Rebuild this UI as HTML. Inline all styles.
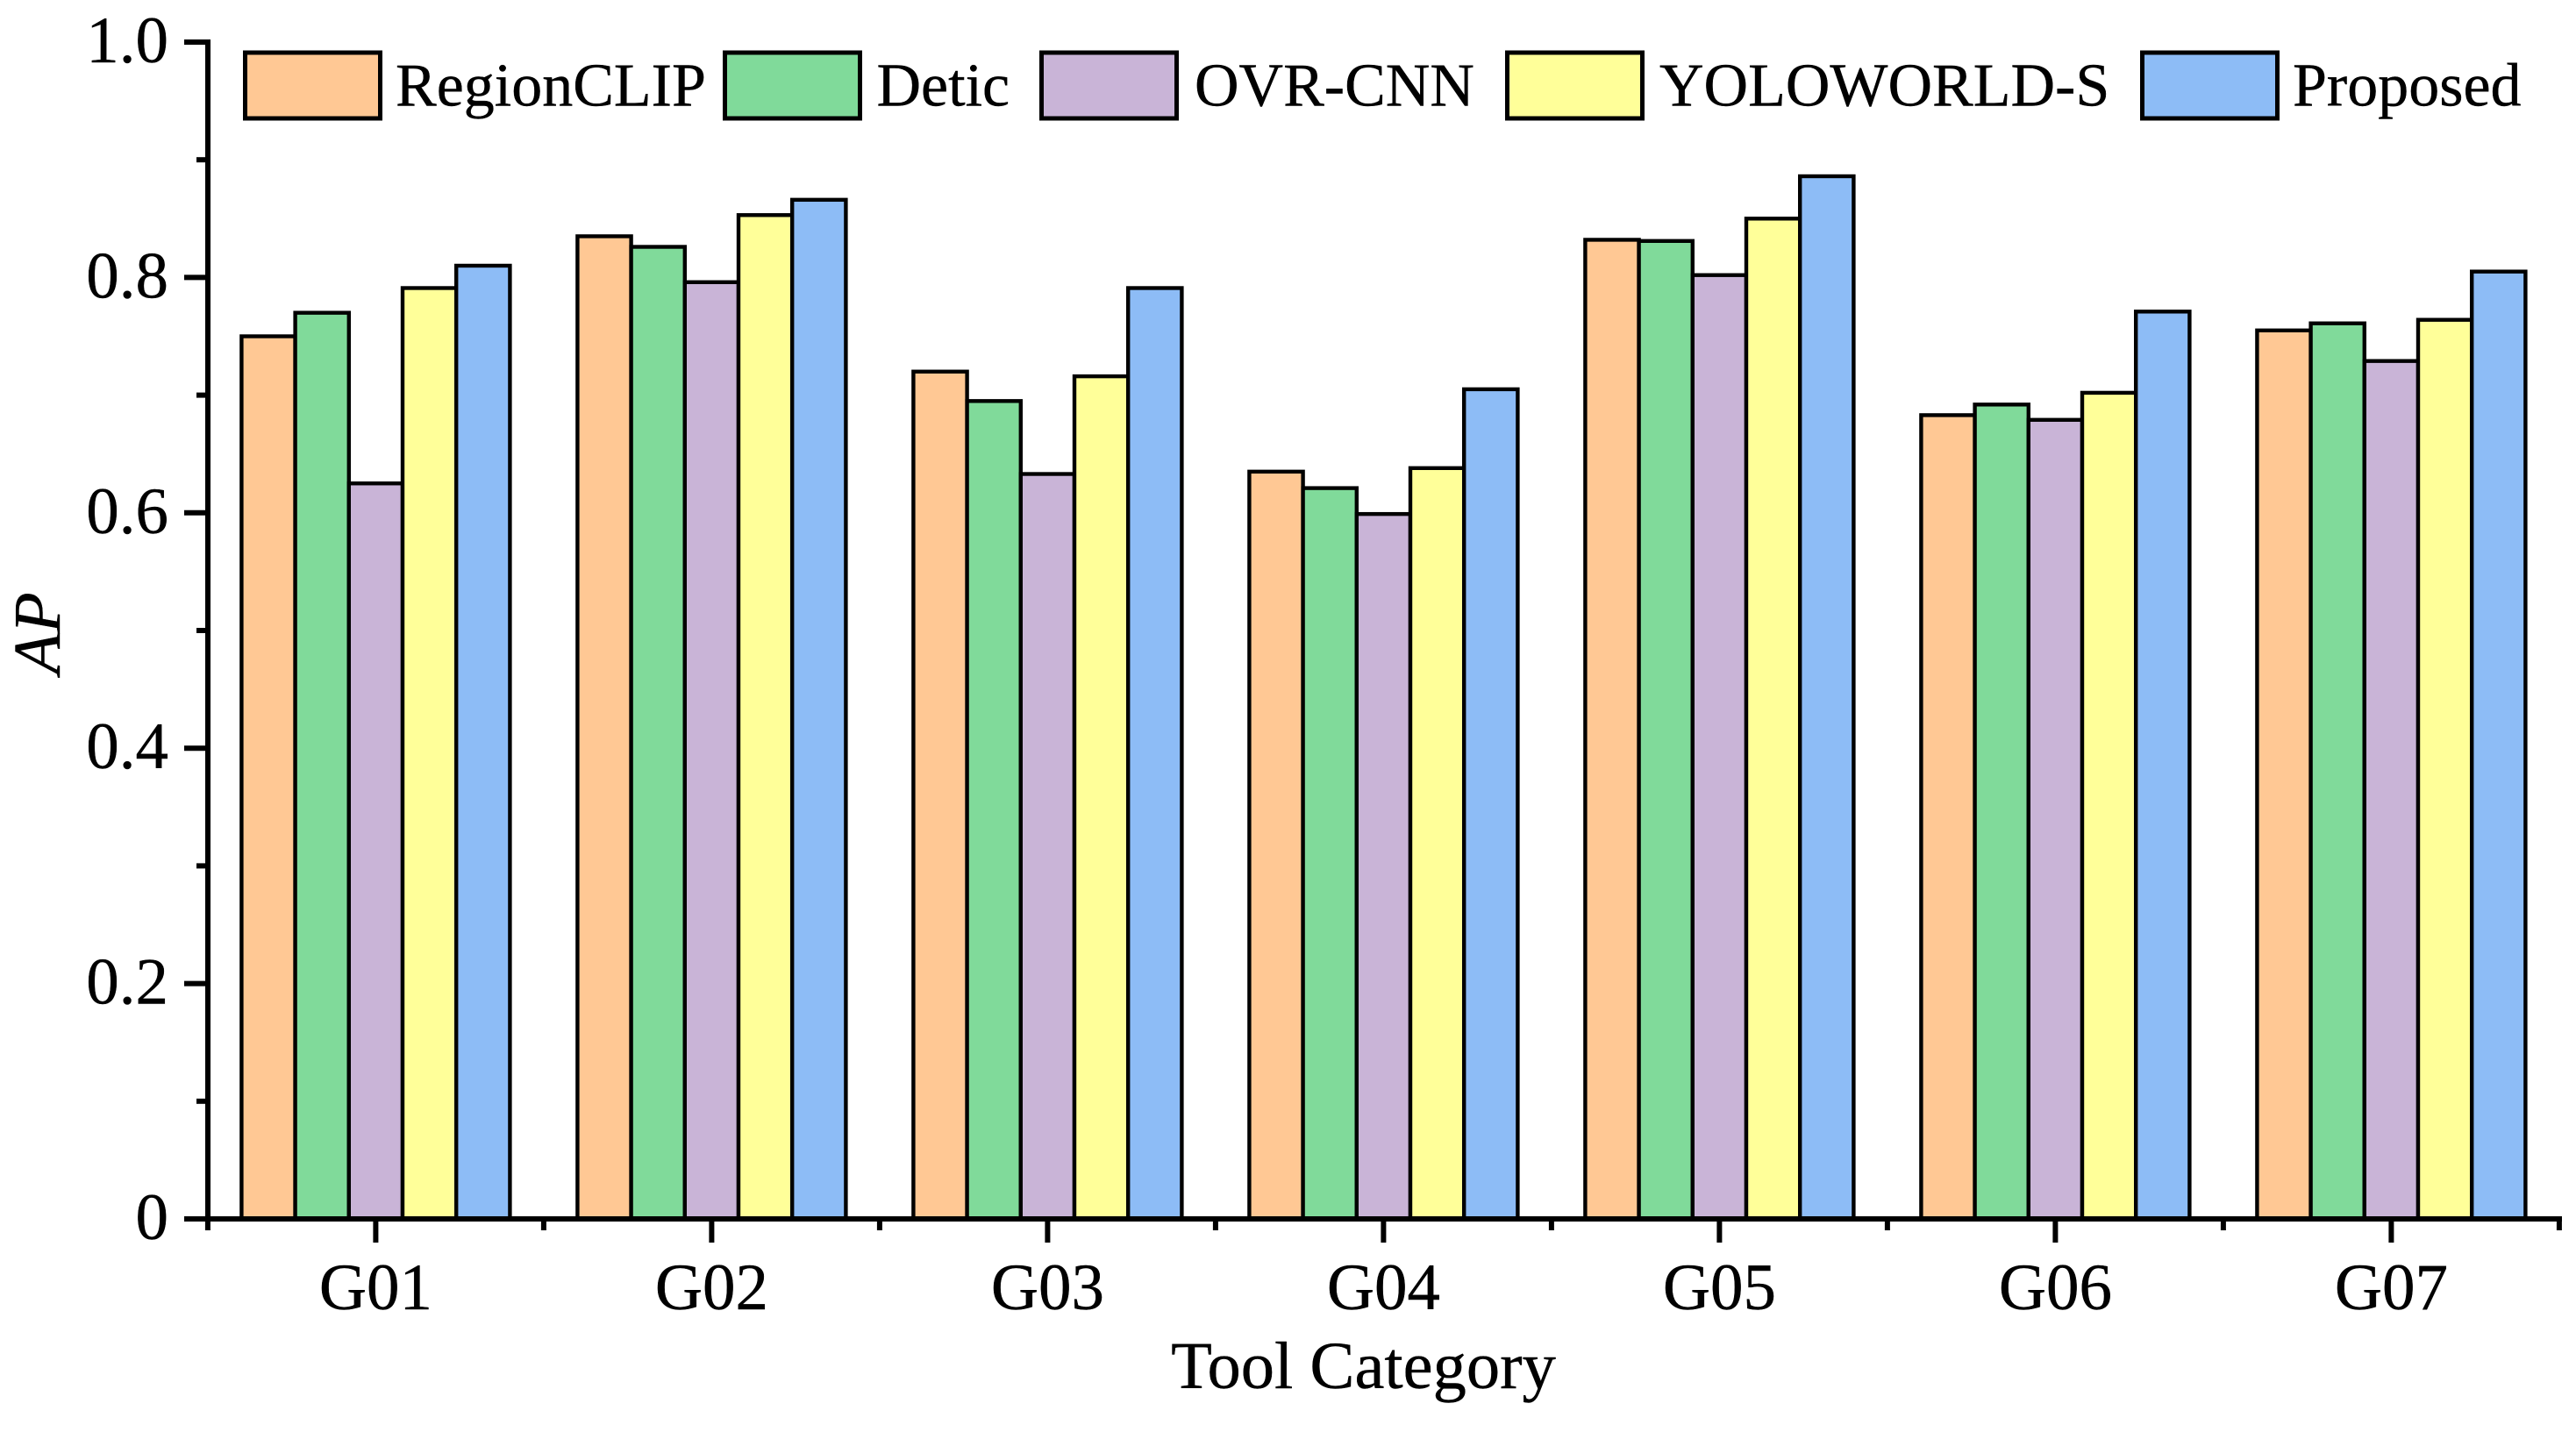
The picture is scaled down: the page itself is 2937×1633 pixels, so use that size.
<!DOCTYPE html>
<html lang="en">
<head>
<meta charset="utf-8">
<title>AP by Tool Category</title>
<style>
  html, body { margin: 0; padding: 0; background: #fff; }
  svg { display: block; }
  text { font-family: "Liberation Serif", serif; fill: #000; stroke: #000; stroke-width: 0.4px; }
  .tick-label { font-size: 75px; }
  .axis-title { font-size: 76.5px; }
  .legend-label { font-size: 70px; }
  .s0 { fill: #FFC894; }
  .s1 { fill: #80DA9A; }
  .s2 { fill: #C9B4D7; }
  .s3 { fill: #FFFF99; }
  .s4 { fill: #8DBCF6; }
  .bar { stroke: #000; stroke-width: 4.4; }
  .swatch { stroke: #000; stroke-width: 5; }
  .axis-line { stroke: #000; stroke-width: 6; fill: none; }
</style>
</head>
<body>
<svg id="chart" xmlns="http://www.w3.org/2000/svg" width="2937" height="1633" viewBox="0 0 2937 1633">
  <rect x="0" y="0" width="2937" height="1633" fill="#fff"/>
  <g id="bars"></g>
  <g id="axes"></g>

  <text class="axis-title" x="1554.5" y="1583" text-anchor="middle">Tool Category</text>
  <text class="axis-title" transform="translate(68,722) rotate(-90)" text-anchor="middle" font-style="italic">AP</text>

  <g>
    <g>
      <rect class="swatch s0" x="279.5" y="60" width="154" height="75"/>
      <text class="legend-label" x="451" y="120.5">RegionCLIP</text>
    </g>
    <g>
      <rect class="swatch s1" x="826.5" y="60" width="154" height="75"/>
      <text class="legend-label" x="999.5" y="120.5">Detic</text>
    </g>
    <g>
      <rect class="swatch s2" x="1187.5" y="60" width="154" height="75"/>
      <text class="legend-label" x="1362" y="120.5">OVR-CNN</text>
    </g>
    <g>
      <rect class="swatch s3" x="1718.5" y="60" width="154" height="75"/>
      <text class="legend-label" x="1892" y="120.5">YOLOWORLD-S</text>
    </g>
    <g>
      <rect class="swatch s4" x="2442.5" y="60" width="154" height="75"/>
      <text class="legend-label" x="2614" y="120.5">Proposed</text>
    </g>
  </g>
</svg>

<script>
const categories = ['G01', 'G02', 'G03', 'G04', 'G05', 'G06', 'G07'];
const seriesKeys = ['regionclip', 'detic', 'ovr-cnn', 'yoloworld-s', 'proposed'];
const regionClip = [0.750, 0.835, 0.720, 0.635, 0.832, 0.683, 0.755];
const detic      = [0.770, 0.826, 0.695, 0.621, 0.831, 0.692, 0.761];
const ovrCnn     = [0.625, 0.796, 0.633, 0.599, 0.802, 0.679, 0.729];
const yoloWorld  = [0.791, 0.853, 0.716, 0.638, 0.850, 0.702, 0.764];
const proposed   = [0.810, 0.866, 0.791, 0.705, 0.886, 0.771, 0.805];
const yTickValues = [0, 0.2, 0.4, 0.6, 0.8, 1.0];
const yTickLabels = ['0', '0.2', '0.4', '0.6', '0.8', '1.0'];
const yMinorValues = [0.1, 0.3, 0.5, 0.7, 0.9];

const allSeries = [regionClip, detic, ovrCnn, yoloWorld, proposed];
const SVG_NS = 'http://www.w3.org/2000/svg';

function yScale(v) { return 1390 - v * 1342; }
function xCenter(i) { return 428.4 + i * 383; }
function xEdge(i) { return 236.9 + i * 383; }
const barWidth = 61.2;
function barLeft(catIndex, seriesIndex) {
  return xCenter(catIndex) - barWidth * allSeries.length / 2 + seriesIndex * barWidth;
}

function make(tag, attrs, parent) {
  const el = document.createElementNS(SVG_NS, tag);
  for (const k in attrs) el.setAttribute(k, attrs[k]);
  parent.appendChild(el);
  return el;
}

const barsGroup = document.getElementById('bars');
allSeries.forEach(function (values, s) {
  values.forEach(function (v, c) {
    const el = make('rect', {
      class: 'bar s' + s,
      x: barLeft(c, s),
      y: yScale(v),
      width: barWidth,
      height: yScale(0) - yScale(v)
    }, barsGroup);
    
    
  });
});

const axesGroup = document.getElementById('axes');

const yAxisLine = make('line', { class: 'axis-line', x1: 237, x2: 237, y1: 45, y2: 1393 }, axesGroup);



const xAxisLine = make('line', { class: 'axis-line', x1: 210, x2: 2921, y1: yScale(0), y2: yScale(0) }, axesGroup);



yTickValues.forEach(function (v, i) {
  const tick = make('line', { class: 'axis-line', x1: 210, x2: 237, y1: yScale(v), y2: yScale(v) }, axesGroup);
  
  
  const label = make('text', { class: 'tick-label', x: 192, y: yScale(v) + 23, 'text-anchor': 'end' }, axesGroup);
  label.textContent = yTickLabels[i];
  
  
});

yMinorValues.forEach(function (v) {
  const tick = make('line', { class: 'axis-line', x1: 224, x2: 237, y1: yScale(v), y2: yScale(v) }, axesGroup);
  
  
});

categories.forEach(function (name, i) {
  const tick = make('line', { class: 'axis-line', x1: xCenter(i), x2: xCenter(i), y1: 1390, y2: 1417 }, axesGroup);
  
  
  const label = make('text', { class: 'tick-label', x: xCenter(i), y: 1493, 'text-anchor': 'middle' }, axesGroup);
  label.textContent = name;
  
  
});

for (let i = 0; i <= categories.length; i++) {
  const tick = make('line', { class: 'axis-line', x1: xEdge(i), x2: xEdge(i), y1: 1390, y2: 1403 }, axesGroup);
  
  
}
</script>
</body>
</html>
